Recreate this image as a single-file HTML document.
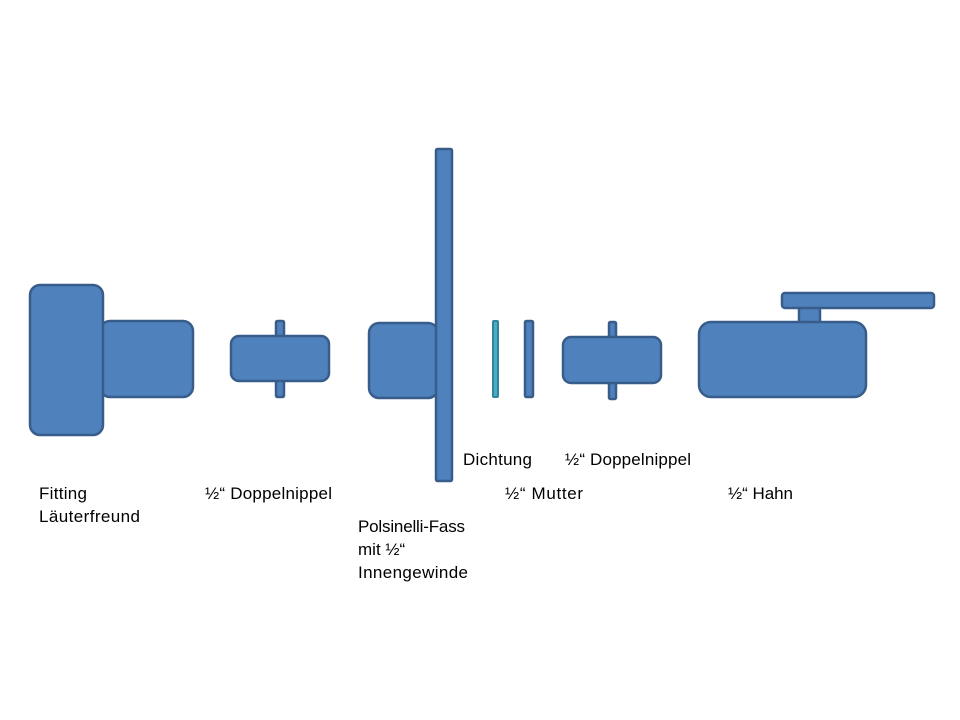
<!DOCTYPE html>
<html><head><meta charset="utf-8"><style>
html,body{margin:0;padding:0;background:#fff;}
svg{display:block;}
text{font-family:"Liberation Sans",sans-serif;font-size:17px;fill:#000;}
</style></head><body>
<svg width="960" height="720" viewBox="0 0 960 720" xmlns="http://www.w3.org/2000/svg">
<g fill="#4f81bd" stroke="#385d8a" stroke-width="2.5">
  <rect x="100" y="321" width="93" height="76" rx="10"/>
  <rect x="30" y="285" width="73" height="150" rx="10"/>
  <rect x="276" y="321" width="8" height="76" rx="1.5"/>
  <rect x="231" y="336" width="98" height="45" rx="8"/>
  <rect x="369" y="323" width="69" height="75" rx="10"/>
  <rect x="436" y="149" width="16" height="332" rx="1.5"/>
  <rect x="525" y="321" width="8" height="76" rx="1.5"/>
  <rect x="609" y="322" width="7" height="77" rx="1.5"/>
  <rect x="563" y="337" width="98" height="46" rx="8"/>
  <rect x="799" y="306" width="21" height="18"/>
  <rect x="782" y="293" width="152" height="15" rx="3"/>
  <rect x="699" y="322" width="167" height="75" rx="12"/>
</g>
<rect x="493" y="321" width="5" height="76" rx="1" fill="#4bacc6" stroke="#31849b" stroke-width="2"/>
<text x="39" y="499" textLength="48">Fitting</text>
<text x="39" y="522" textLength="101">Läuterfreund</text>
<text x="205" y="499" textLength="127">½“ Doppelnippel</text>
<text x="358" y="532" textLength="107">Polsinelli-Fass</text>
<text x="358" y="555">mit ½“</text>
<text x="358" y="578" textLength="110">Innengewinde</text>
<text x="463" y="465" textLength="69">Dichtung</text>
<text x="565" y="465" textLength="126">½“ Doppelnippel</text>
<text x="505" y="499" textLength="78">½“ Mutter</text>
<text x="728" y="499" textLength="65">½“ Hahn</text>
</svg>
</body></html>
